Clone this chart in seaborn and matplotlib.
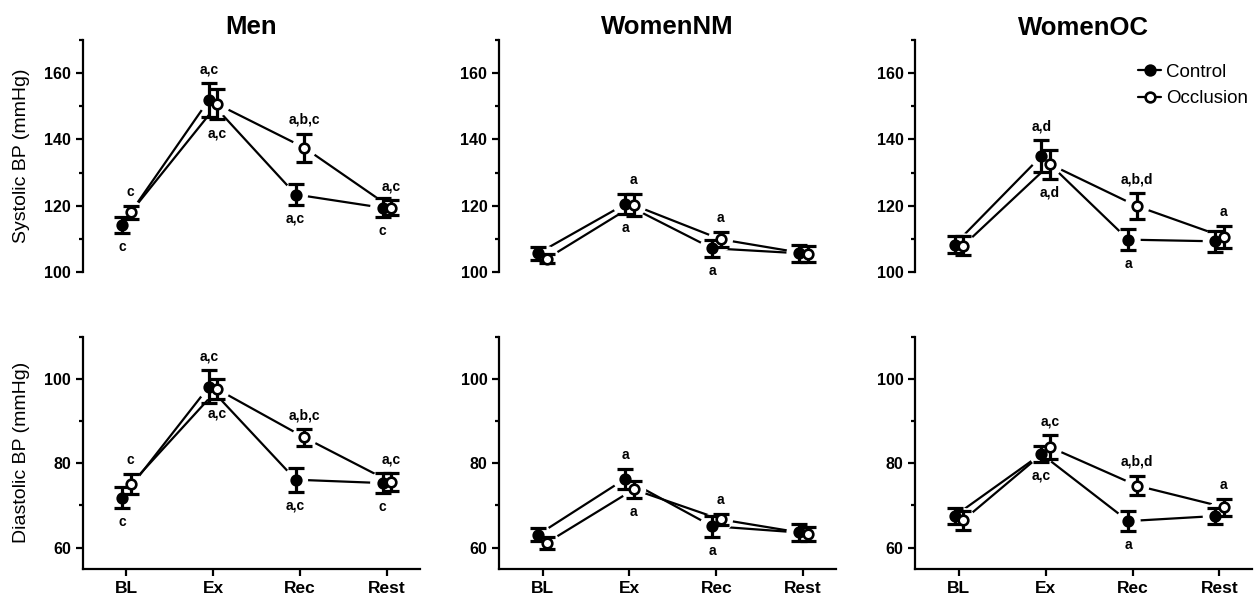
import matplotlib
matplotlib.use("Agg")
import numpy as np
import pandas as pd
import matplotlib.pyplot as plt
import seaborn as sns
from matplotlib.lines import Line2D
from matplotlib.ticker import MultipleLocator

# data (mean +/- SEM)
phases = ["BL", "Ex", "Rec", "Rest"]
groups = ["Men", "WomenNM", "WomenOC"]
conditions = ["Control", "Occlusion"]

men_sys_ctrl = [114.2, 151.9, 123.4, 119.4]
men_sys_ctrl_err = [2.3, 5.0, 3.1, 2.8]
men_sys_occl = [118.0, 150.6, 137.5, 119.4]
men_sys_occl_err = [2.0, 4.5, 4.2, 2.3]

nm_sys_ctrl = [105.7, 120.5, 107.2, 105.7]
nm_sys_ctrl_err = [1.9, 3.0, 2.5, 2.5]
nm_sys_occl = [104.1, 120.2, 109.9, 105.5]
nm_sys_occl_err = [1.4, 3.3, 2.3, 2.3]

oc_sys_ctrl = [108.3, 135.0, 109.8, 109.3]
oc_sys_ctrl_err = [2.6, 4.7, 3.2, 3.2]
oc_sys_occl = [108.0, 132.5, 119.9, 110.6]
oc_sys_occl_err = [2.8, 4.4, 3.9, 3.3]

men_dia_ctrl = [71.8, 98.1, 76.1, 75.3]
men_dia_ctrl_err = [2.5, 3.9, 2.8, 2.4]
men_dia_occl = [75.0, 97.5, 86.1, 75.5]
men_dia_occl_err = [2.4, 2.4, 2.0, 2.1]

nm_dia_ctrl = [63.1, 76.3, 65.1, 63.6]
nm_dia_ctrl_err = [1.5, 2.3, 2.5, 2.0]
nm_dia_occl = [61.2, 73.8, 66.7, 63.3]
nm_dia_occl_err = [1.4, 2.1, 1.3, 1.7]

oc_dia_ctrl = [67.5, 82.2, 66.3, 67.5]
oc_dia_ctrl_err = [1.8, 1.9, 2.4, 2.0]
oc_dia_occl = [66.5, 83.8, 74.7, 69.6]
oc_dia_occl_err = [2.2, 2.8, 2.3, 2.0]

# significance letters: (phase, condition, text, side)
men_sys_notes = [("BL", "Control", "c", "below"), ("BL", "Occlusion", "c", "above"),
                 ("Ex", "Control", "a,c", "above"), ("Ex", "Occlusion", "a,c", "below"),
                 ("Rec", "Occlusion", "a,b,c", "above"), ("Rec", "Control", "a,c", "below"),
                 ("Rest", "Occlusion", "a,c", "above"), ("Rest", "Control", "c", "below")]
men_dia_notes = men_sys_notes
nm_sys_notes = [("Ex", "Occlusion", "a", "above"), ("Ex", "Control", "a", "below"),
                ("Rec", "Occlusion", "a", "above"), ("Rec", "Control", "a", "below")]
nm_dia_notes = [("Ex", "Control", "a", "above"), ("Ex", "Occlusion", "a", "below"),
                ("Rec", "Occlusion", "a", "above"), ("Rec", "Control", "a", "below")]
oc_sys_notes = [("Ex", "Control", "a,d", "above"), ("Ex", "Occlusion", "a,d", "below"),
                ("Rec", "Occlusion", "a,b,d", "above"), ("Rec", "Control", "a", "below"),
                ("Rest", "Occlusion", "a", "above")]
oc_dia_notes = [("Ex", "Occlusion", "a,c", "above"), ("Ex", "Control", "a,c", "below"),
                ("Rec", "Occlusion", "a,b,d", "above"), ("Rec", "Control", "a", "below"),
                ("Rest", "Occlusion", "a", "above")]

panels = {
    ("sys", "Men"): (men_sys_ctrl, men_sys_ctrl_err, men_sys_occl, men_sys_occl_err, men_sys_notes),
    ("sys", "WomenNM"): (nm_sys_ctrl, nm_sys_ctrl_err, nm_sys_occl, nm_sys_occl_err, nm_sys_notes),
    ("sys", "WomenOC"): (oc_sys_ctrl, oc_sys_ctrl_err, oc_sys_occl, oc_sys_occl_err, oc_sys_notes),
    ("dia", "Men"): (men_dia_ctrl, men_dia_ctrl_err, men_dia_occl, men_dia_occl_err, men_dia_notes),
    ("dia", "WomenNM"): (nm_dia_ctrl, nm_dia_ctrl_err, nm_dia_occl, nm_dia_occl_err, nm_dia_notes),
    ("dia", "WomenOC"): (oc_dia_ctrl, oc_dia_ctrl_err, oc_dia_occl, oc_dia_occl_err, oc_dia_notes),
}

sns.set_style("ticks")
plt.rcParams["font.family"] = ["Liberation Sans", "DejaVu Sans"]
plt.rcParams.update({"text.color": "black", "axes.labelcolor": "black",
                     "xtick.color": "black", "ytick.color": "black",
                     "axes.edgecolor": "black"})

dodge = {"Control": -0.05, "Occlusion": 0.05}
face = {"Control": "black", "Occlusion": "white"}
title_pad = {"Men": 4, "WomenNM": 4, "WomenOC": 0}

fig, axes = plt.subplots(2, 3, figsize=(12.55, 5.95), dpi=100)
fig.subplots_adjust(left=0.066, right=0.998, bottom=0.044, top=0.933,
                    wspace=0.235, hspace=0.277)

for r, measure in enumerate(["sys", "dia"]):
    for c, grp in enumerate(groups):
        ax = axes[r, c]
        ctrl, ctrl_err, occl, occl_err, notes = panels[(measure, grp)]
        df = pd.DataFrame({
            "phase": phases * 2,
            "cond": ["Control"] * 4 + ["Occlusion"] * 4,
            "bp": ctrl + occl,
            "err": ctrl_err + occl_err,
        })
        df["x"] = df["phase"].map({p: i for i, p in enumerate(phases)}) + df["cond"].map(dodge)

        for cond in conditions:
            sub = df[df["cond"] == cond]
            sns.lineplot(data=sub, x="x", y="bp", color="black", lw=1.6, ax=ax,
                         zorder=1, legend=False)
        # white halo so lines stop short of the markers
        ax.scatter(df["x"], df["bp"], s=320, c="white", edgecolors="none", zorder=2)
        for cond in conditions:
            sub = df[df["cond"] == cond]
            ax.errorbar(sub["x"], sub["bp"], yerr=sub["err"], fmt="none",
                        ecolor="black", elinewidth=2.3, capsize=5.5, capthick=2.3, zorder=3)
            sns.scatterplot(data=sub, x="x", y="bp", color=face[cond], s=48,
                            edgecolor="black", linewidth=1.9, ax=ax, zorder=4, legend=False)

        for ph, cond, txt, side in notes:
            row = df[(df["phase"] == ph) & (df["cond"] == cond)].iloc[0]
            if side == "above":
                ax.annotate(txt, (row["x"], row["bp"] + row["err"]), xytext=(0, 5),
                            textcoords="offset points", ha="center", va="bottom",
                            fontsize=10, fontweight="bold")
            else:
                ax.annotate(txt, (row["x"], row["bp"] - row["err"]), xytext=(0, -5),
                            textcoords="offset points", ha="center", va="top",
                            fontsize=10, fontweight="bold")

        ax.set_xlim(-0.5, 3.38)
        ax.set_xlabel("")
        ax.set_ylabel("")
        sns.despine(ax=ax)
        ax.spines["left"].set_linewidth(1.6)
        ax.spines["bottom"].set_linewidth(1.6)
        ax.tick_params(axis="both", which="major", length=5, width=1.6,
                       labelsize=11.5)
        ax.tick_params(axis="y", which="minor", length=3, width=1.6)

        if measure == "sys":
            ax.set_ylim(100, 170)
            ax.yaxis.set_major_locator(MultipleLocator(20))
            ax.yaxis.set_minor_locator(MultipleLocator(10))
            ax.spines["bottom"].set_visible(False)
            ax.set_xticks([])
            ax.set_title(grp, fontsize=18.5, fontweight="bold", pad=title_pad[grp])
        else:
            ax.set_ylim(55, 110)
            ax.set_yticks([60, 80, 100])
            ax.yaxis.set_minor_locator(MultipleLocator(10))
            ax.set_xticks(range(len(phases)))
            ax.set_xticklabels(phases, fontweight="bold", fontsize=12.5)
        for lab in ax.get_yticklabels():
            lab.set_fontweight("bold")

axes[0, 0].set_ylabel("Systolic BP (mmHg)", fontsize=14, labelpad=10)
axes[1, 0].set_ylabel("Diastolic BP (mmHg)", fontsize=14, labelpad=10)

handles = [Line2D([], [], color="black", lw=1.6, marker="o", markersize=7,
                  markerfacecolor=face[cond], markeredgecolor="black", markeredgewidth=1.9)
           for cond in conditions]
axes[0, 2].legend(handles, conditions, loc="upper right", bbox_to_anchor=(1.038, 0.97),
                  frameon=False, fontsize=13.5, handlelength=1.2, handletextpad=0.3,
                  labelspacing=0.5)

fig.savefig("out.png", dpi=100)
